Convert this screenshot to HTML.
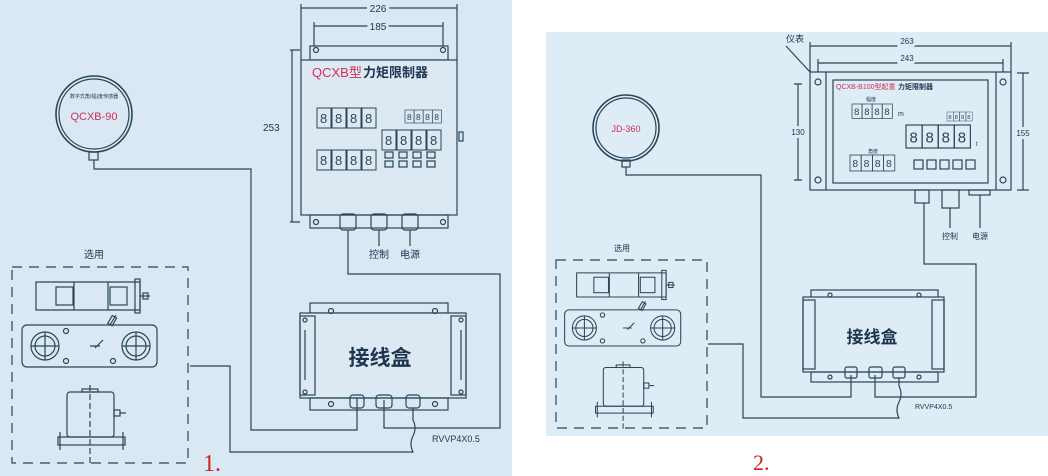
<!DOCTYPE html>
<html><head><meta charset="utf-8"><style>
html,body{margin:0;padding:0;background:#fff}
svg{display:block}
text{font-family:"Liberation Sans","Noto Sans CJK SC",sans-serif;fill:#1e3550}
</style></head><body>
<svg width="1048" height="476" viewBox="0 0 1048 476" xmlns="http://www.w3.org/2000/svg">
<defs>
<g id="cells" fill="none" stroke="#2a4558" stroke-width="1.2">
  <path d="M36 282h104v28h-104z"/>
  <rect x="56" y="287" width="17" height="18"/>
  <rect x="110" y="287" width="17" height="18"/>
  <line x1="74" y1="282" x2="74" y2="310"/><line x1="108" y1="282" x2="108" y2="310"/>
  <rect x="135" y="279" width="5" height="34"/>
  <path d="M140 296h10"/><rect x="143" y="293" width="5" height="6"/>
  <rect x="22" y="325" width="135" height="42" rx="5"/>
  <circle cx="45" cy="346" r="14"/><circle cx="45" cy="346" r="10"/><path d="M31 346h28M45 332v28"/>
  <circle cx="136" cy="346" r="14"/><circle cx="136" cy="346" r="10"/><path d="M122 346h28M136 332v28"/>
  <circle cx="66" cy="331" r="2.5"/><circle cx="66" cy="361" r="2.5"/><circle cx="113" cy="361" r="2.5"/>
  <path d="M95 348l8-8M90 346h10M110 325l6-10" /><rect x="110" y="316" width="5" height="9" transform="rotate(30 112 320)"/>
  <rect x="67" y="392" width="47" height="45" rx="3"/><rect x="82" y="389" width="16" height="3"/>
  <rect x="114" y="410" width="6" height="6"/><path d="M120 413h6"/>
  <rect x="58" y="437" width="67" height="8"/><path d="M60 432v18M123 432v18"/>
  <path d="M90 385v80" stroke-dasharray="6 3"/>
</g>
<g id="dig"><rect width="14" height="20" fill="none" stroke="#2a4558" stroke-width="1"/><text x="3" y="15" font-size="13" style="fill:#2a4558">8</text></g>
</defs>

<!-- Panel 1 background -->
<rect x="0" y="0" width="512" height="476" fill="#d9e8f2"/>
<!-- Panel 2 background -->
<rect x="546" y="32" width="502" height="404" fill="#ddecf5"/>

<g fill="none" stroke="#2a4558" stroke-width="1.2">
<!-- ===== Panel 1 ===== -->
<!-- dims -->
<path d="M301 8h156M301 4v56M457 4v56"/>
<path d="M314 26h129M314 22v24M443 22v24"/>
<path d="M292 50v172M290 50h10M290 222h10"/>
<!-- controller -->
<rect x="310" y="46" width="138" height="14"/>
<rect x="301" y="60" width="156" height="155" fill="#dce9f2"/>
<rect x="310" y="215" width="138" height="13"/>
<circle cx="316" cy="50" r="2.5"/><circle cx="443" cy="50" r="2.5"/>
<circle cx="316" cy="222" r="2.5"/><circle cx="443" cy="222" r="2.5"/>
<rect x="459" y="132" width="4" height="9"/>
<rect x="340" y="214" width="16" height="16" rx="3"/><rect x="371" y="214" width="16" height="16" rx="3"/><rect x="402" y="214" width="16" height="16" rx="3"/>
<path d="M379 230v16M410 230v16"/>
<!-- buttons -->
<rect x="385" y="152" width="8" height="6"/><rect x="385" y="161" width="8" height="6"/>
<rect x="399" y="152" width="8" height="6"/><rect x="399" y="161" width="8" height="6"/>
<rect x="413" y="152" width="8" height="6"/><rect x="413" y="161" width="8" height="6"/>
<rect x="427" y="152" width="8" height="6"/><rect x="427" y="161" width="8" height="6"/>
<!-- gauge 1 -->
<circle cx="94" cy="114" r="38" stroke-width="1.6"/><circle cx="94" cy="114" r="35"/>
<rect x="89" y="152" width="9" height="8"/>
<!-- wires -->
<path d="M94 160v9h157v261h106v-35"/>
<path d="M348 230v44h152v154h-116v-28"/>
<path d="M413 408v12q4 8 0 16q-4 8 0 16h-183v-86h-40"/>
<!-- junction box 1 -->
<rect x="310" y="303" width="138" height="10"/>
<rect x="300" y="313" width="166" height="85" fill="#dce9f2"/>
<rect x="300" y="316" width="15" height="79"/><rect x="451" y="316" width="15" height="79"/>
<path d="M305 330v50M461 330v50"/>
<rect x="310" y="398" width="138" height="12"/>
<circle cx="331" cy="311" r="2.5"/><circle cx="435" cy="311" r="2.5"/>
<circle cx="331" cy="404" r="2.5"/><circle cx="435" cy="404" r="2.5"/>
<circle cx="305" cy="320" r="2"/><circle cx="461" cy="320" r="2"/><circle cx="305" cy="392" r="2"/><circle cx="461" cy="392" r="2"/>
<rect x="350" y="395" width="14" height="13" rx="3"/><rect x="376" y="395" width="16" height="13" rx="3"/><rect x="406" y="395" width="14" height="13" rx="3"/>
<!-- dashed box 1 -->
<rect x="12" y="267" width="176" height="196" stroke-dasharray="10 7"/>

<!-- ===== Panel 2 ===== -->
<path d="M786 46l24 26"/>
<path d="M810 46h201M810 42v30M1011 42v30"/>
<path d="M818 63h185M818 59v20M1003 59v20"/>
<path d="M798 84v96M794 84h8M794 180h8"/>
<path d="M1023 73v117M1017 73h12M1017 190h12"/>
<rect x="810" y="72" width="201" height="118" fill="#deecf5"/>
<path d="M826 72v118M996 72v118"/>
<rect x="833" y="80" width="155" height="103"/>
<circle cx="818" cy="82" r="3"/><circle cx="1003" cy="82" r="3"/><circle cx="818" cy="180" r="3"/><circle cx="1003" cy="180" r="3"/>
<rect x="915" y="190" width="14" height="13"/><rect x="942" y="190" width="17" height="18"/><rect x="969" y="190" width="21" height="5"/>
<path d="M950 208v20M980 195v33"/>
<rect x="914" y="160" width="9" height="9"/><rect x="927" y="160" width="9" height="9"/><rect x="940" y="160" width="9" height="9"/><rect x="953" y="160" width="9" height="9"/><rect x="966" y="160" width="9" height="9"/>
<!-- gauge 2 -->
<circle cx="626" cy="128" r="33" stroke-width="1.6"/><circle cx="626" cy="128" r="30"/>
<rect x="622" y="160" width="8" height="7"/>
<!-- wires -->
<path d="M626 167v8h135v222h90v-22"/>
<path d="M924 203v61h52v133h-101v-22"/>
<path d="M899 378v8q4 8 0 16q-4 8 0 16h-156v-74h-35"/>
<!-- junction box 2 -->
<rect x="811" y="290" width="127" height="8"/>
<rect x="803" y="297" width="141" height="75" fill="#deecf5"/>
<rect x="803" y="300" width="12" height="69"/><rect x="932" y="300" width="12" height="69"/>
<rect x="811" y="372" width="127" height="10"/>
<circle cx="830" cy="295" r="2"/><circle cx="919" cy="295" r="2"/><circle cx="830" cy="377" r="2"/><circle cx="919" cy="377" r="2"/>
<rect x="845" y="367" width="12" height="11" rx="2"/><rect x="869" y="367" width="13" height="11" rx="2"/><rect x="893" y="367" width="12" height="11" rx="2"/>
<rect x="556" y="260" width="151" height="168" stroke-dasharray="10 7"/>
</g>

<use href="#cells"/>
<use href="#cells" transform="translate(545.7 30.4) scale(0.86)"/>

<!-- displays panel 1 -->
<g>
<use href="#dig" x="317" y="108"/><use href="#dig" x="332" y="108"/><use href="#dig" x="347" y="108"/><use href="#dig" x="362" y="108"/>
<use href="#dig" x="317" y="150"/><use href="#dig" x="332" y="150"/><use href="#dig" x="347" y="150"/><use href="#dig" x="362" y="150"/>
<use href="#dig" x="382" y="130"/><use href="#dig" x="397" y="130"/><use href="#dig" x="412" y="130"/><use href="#dig" x="427" y="130"/>
<g transform="translate(405 110) scale(0.65)"><use href="#dig" x="0"/><use href="#dig" x="14"/><use href="#dig" x="28"/><use href="#dig" x="42"/></g>
<!-- panel 2 -->
<g transform="translate(852 104) scale(0.72)"><use href="#dig" x="0"/><use href="#dig" x="14"/><use href="#dig" x="28"/><use href="#dig" x="42"/></g>
<g transform="translate(850 155) scale(0.8)"><use href="#dig" x="0"/><use href="#dig" x="14"/><use href="#dig" x="28"/><use href="#dig" x="42"/></g>
<g transform="translate(906 125) scale(1.15)"><use href="#dig" x="0"/><use href="#dig" x="14"/><use href="#dig" x="28"/><use href="#dig" x="42"/></g>
<g transform="translate(947 112) scale(0.45)"><use href="#dig" x="0"/><use href="#dig" x="14"/><use href="#dig" x="28"/><use href="#dig" x="42"/></g>
</g>

<!-- texts panel 1 -->
<text x="378" y="12" font-size="10" text-anchor="middle" style="stroke:#d9e8f2;stroke-width:6;paint-order:stroke">226</text>
<text x="378" y="30" font-size="10" text-anchor="middle" style="stroke:#d9e8f2;stroke-width:6;paint-order:stroke">185</text>
<text x="263" y="131" font-size="10">253</text>
<text x="312" y="77" font-size="13" style="fill:#d0305a">QCXB型</text>
<text x="363" y="77" font-size="13" font-weight="bold">力矩限制器</text>
<text x="94" y="120" font-size="11" text-anchor="middle" style="fill:#d0305a">QCXB-90</text>
<text x="94" y="98" font-size="5" text-anchor="middle">数字式角(幅)度传感器</text>
<text x="379" y="258" font-size="10" text-anchor="middle">控制</text>
<text x="410" y="258" font-size="10" text-anchor="middle">电源</text>
<text x="94" y="258" font-size="10" text-anchor="middle">选用</text>
<text x="380" y="365" font-size="21" font-weight="bold" text-anchor="middle">接线盒</text>
<text x="432" y="442" font-size="9">RVVP4X0.5</text>
<text x="203" y="471" font-size="24" style="fill:#d0201c;font-family:'Liberation Serif',serif">1.</text>

<!-- texts panel 2 -->
<text x="786" y="42" font-size="9">仪表</text>
<text x="907" y="44" font-size="8" text-anchor="middle" style="stroke:#ddecf5;stroke-width:6;paint-order:stroke">263</text>
<text x="907" y="61" font-size="8" text-anchor="middle" style="stroke:#ddecf5;stroke-width:6;paint-order:stroke">243</text>
<text x="798" y="135" font-size="8" text-anchor="middle" style="stroke:#ddecf5;stroke-width:6;paint-order:stroke">130</text>
<text x="1023" y="136" font-size="8" text-anchor="middle" style="stroke:#ddecf5;stroke-width:6;paint-order:stroke">155</text>
<text x="836" y="89" font-size="7" style="fill:#d0305a">QCXB-B100型起重</text>
<text x="898" y="89" font-size="7" font-weight="bold">力矩限制器</text>
<text x="866" y="101" font-size="5">幅度</text>
<text x="898" y="116" font-size="7">m</text>
<text x="868" y="153" font-size="5">角度</text>
<text x="976" y="146" font-size="6">t</text>
<text x="626" y="132" font-size="9" text-anchor="middle" style="fill:#d0305a">JD-360</text>
<text x="950" y="239" font-size="8" text-anchor="middle">控制</text>
<text x="980" y="239" font-size="8" text-anchor="middle">电源</text>
<text x="622" y="251" font-size="8" text-anchor="middle">选用</text>
<text x="872" y="343" font-size="17" font-weight="bold" text-anchor="middle">接线盒</text>
<text x="915" y="409" font-size="7">RVVP4X0.5</text>
<text x="753" y="470" font-size="22" style="fill:#d0201c;font-family:'Liberation Serif',serif">2.</text>
</svg>
</body></html>
